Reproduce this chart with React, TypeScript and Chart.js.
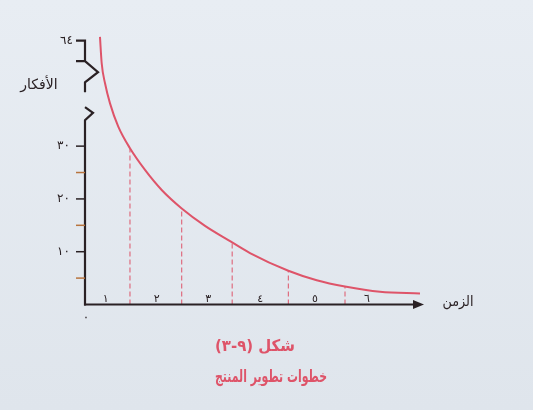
import { useEffect, useRef } from "react";
import { Chart, registerables } from "chart.js";

Chart.register(...registerables);

// Number of ideas (الأفكار) shrinking over the successive steps of product development (الزمن)
const curveX = [0.288, 0.321, 0.385, 0.481, 0.64, 0.865, 1.154, 1.475, 1.86, 2.308, 2.756, 3.173, 3.91, 4.456, 5.0, 5.673, 6.442];
const curveY = [50.7, 45.7, 41.9, 38.1, 33.7, 29.6, 25.5, 21.7, 18.2, 14.9, 12.2, 9.75, 6.4, 4.6, 3.4, 2.4, 2.1];

// Boundaries between the six steps and the idea count reached at each one
const stepEdges = [0.865, 1.86, 2.83, 3.91, 5.0];
const stepEdgeValues = [29.6, 18.2, 11.8, 6.4, 3.4];

const stepLabels = ["١", "٢", "٣", "٤", "٥", "٦"];
const stepLabelX = [0.4, 1.38, 2.37, 3.37, 4.42, 5.42];

const yTickValues = [10, 20, 30];
const yTickLabels = ["١٠", "٢٠", "٣٠"];
const yMinorTicks = [5, 15, 25];
// the axis is broken above 30; its top stub carries the starting count
const yTopTick = 50;
const yTopLabel = "٦٤";

const xTitle = "الزمن";
const yTitle = "الأفكار";
const captionNumber = "شكل (٩-٣)";
const captionTitle = "خطوات تطوير المنتج";

const AXIS = "#2a2124";
const MINOR = "#b8743e";
const RED = "#de5469";
const ARABIC = '"DejaVu Sans", sans-serif';

// draw right-to-left text centred at (cx, cy), squeezed to a given width
function fitText(ctx: CanvasRenderingContext2D, text: string, cx: number, cy: number, width: number) {
  const w = ctx.measureText(text).width;
  const s = Math.min(1, width / w);
  ctx.save();
  ctx.translate(cx, cy);
  ctx.scale(s, 1);
  ctx.fillText(text, 0, 0);
  ctx.restore();
}

const figurePlugin = {
  id: "figure",
  beforeDraw(chart: any) {
    const { ctx, width, height } = chart;
    const g = ctx.createLinearGradient(0, 0, 0, height);
    g.addColorStop(0, "#e8edf3");
    g.addColorStop(1, "#dfe5ec");
    ctx.save();
    ctx.fillStyle = g;
    ctx.fillRect(0, 0, width, height);
    ctx.restore();
  },
  afterDraw(chart: any) {
    const { ctx, scales } = chart;
    const x = scales.x;
    const y = scales.y;
    const px = (v: number) => x.getPixelForValue(v);
    const py = (v: number) => y.getPixelForValue(v);
    const x0 = px(0);
    const y0 = py(0);

    ctx.save();
    ctx.strokeStyle = AXIS;
    ctx.lineWidth = 2.2;
    ctx.lineJoin = "miter";
    ctx.lineCap = "butt";

    // upper piece of the broken y axis
    ctx.beginPath();
    ctx.moveTo(x0 - 9, py(yTopTick));
    ctx.lineTo(x0, py(yTopTick));
    ctx.lineTo(x0, py(46.1));
    ctx.lineTo(x0 - 9, py(46.1));
    ctx.moveTo(x0, py(46.1));
    ctx.lineTo(x0 + 13, py(44.0));
    ctx.lineTo(x0, py(42.1));
    ctx.lineTo(x0, py(40.2));
    ctx.stroke();

    // lower piece down to the origin
    ctx.beginPath();
    ctx.moveTo(x0, py(37.4));
    ctx.lineTo(x0 + 8, py(36.3));
    ctx.lineTo(x0, py(34.9));
    ctx.lineTo(x0, y0 + 1);
    ctx.stroke();

    // x axis with arrow head
    const xEnd = x.right;
    ctx.beginPath();
    ctx.moveTo(x0 - 1, y0);
    ctx.lineTo(xEnd - 9, y0);
    ctx.stroke();
    ctx.fillStyle = AXIS;
    ctx.beginPath();
    ctx.moveTo(xEnd + 1, y0);
    ctx.lineTo(xEnd - 10, y0 - 4.5);
    ctx.lineTo(xEnd - 10, y0 + 4.5);
    ctx.closePath();
    ctx.fill();

    // y ticks
    ctx.lineWidth = 1.5;
    yMinorTicks.forEach((v) => {
      ctx.strokeStyle = MINOR;
      ctx.beginPath();
      ctx.moveTo(x0 - 9, py(v));
      ctx.lineTo(x0, py(v));
      ctx.stroke();
    });
    ctx.strokeStyle = AXIS;
    yTickValues.forEach((v) => {
      ctx.beginPath();
      ctx.moveTo(x0 - 9, py(v));
      ctx.lineTo(x0, py(v));
      ctx.stroke();
    });

    // tick labels
    ctx.fillStyle = AXIS;
    ctx.font = `12px ${ARABIC}`;
    ctx.textAlign = "right";
    ctx.textBaseline = "middle";
    yTickValues.forEach((v, i) => ctx.fillText(yTickLabels[i], x0 - 15, py(v)));
    ctx.fillText(yTopLabel, x0 - 12, py(yTopTick));

    ctx.textAlign = "center";
    ctx.textBaseline = "alphabetic";
    ctx.font = `11px ${ARABIC}`;
    stepLabelX.forEach((v, i) => ctx.fillText(stepLabels[i], px(v), y0 - 3));
    ctx.font = `12px ${ARABIC}`;
    ctx.fillText("٠", x0 + 1, y0 + 16);

    // axis titles
    ctx.direction = "rtl";
    ctx.font = `14px ${ARABIC}`;
    ctx.textBaseline = "middle";
    fitText(ctx, xTitle, xEnd + 35, y0 - 2, 31);
    fitText(ctx, yTitle, x0 - 46, py(41.6), 41);

    // caption
    ctx.fillStyle = RED;
    ctx.font = `bold 16px ${ARABIC}`;
    fitText(ctx, captionNumber, 255, 347, 80);
    ctx.font = `bold 17px ${ARABIC}`;
    fitText(ctx, captionTitle, 271, 378, 112);
    ctx.restore();
  },
};

export default function App() {
  const canvasRef = useRef<HTMLCanvasElement | null>(null);

  useEffect(() => {
    const canvas = canvasRef.current;
    if (!canvas) return;

    const datasets: any[] = [
      {
        label: "الأفكار",
        data: curveX.map((v, i) => ({ x: v, y: curveY[i] })),
        borderColor: RED,
        borderWidth: 2,
        pointRadius: 0,
        cubicInterpolationMode: "monotone",
        fill: false,
      },
      ...stepEdges.map((e, i) => ({
        label: `step-${i + 1}`,
        data: [
          { x: e, y: 0 },
          { x: e, y: stepEdgeValues[i] },
        ],
        borderColor: RED,
        borderWidth: 1,
        borderDash: [5, 3],
        pointRadius: 0,
        fill: false,
      })),
    ];

    const chart = new Chart(canvas, {
      type: "line",
      data: { datasets },
      plugins: [figurePlugin],
      options: {
        animation: false,
        responsive: false,
        layout: { padding: { left: 85, right: 110, top: 30, bottom: 105.5 } },
        plugins: {
          legend: { display: false },
          tooltip: { enabled: false },
        },
        scales: {
          x: { type: "linear", min: 0, max: 6.5, display: false },
          y: { type: "linear", min: 0, max: 52, display: false },
        },
      },
    });

    return () => chart.destroy();
  }, []);

  return (
    <div style={{ position: "fixed", left: 0, top: 0, width: 533, height: 410 }}>
      <canvas ref={canvasRef} width={533} height={410} style={{ display: "block" }} />
    </div>
  );
}
